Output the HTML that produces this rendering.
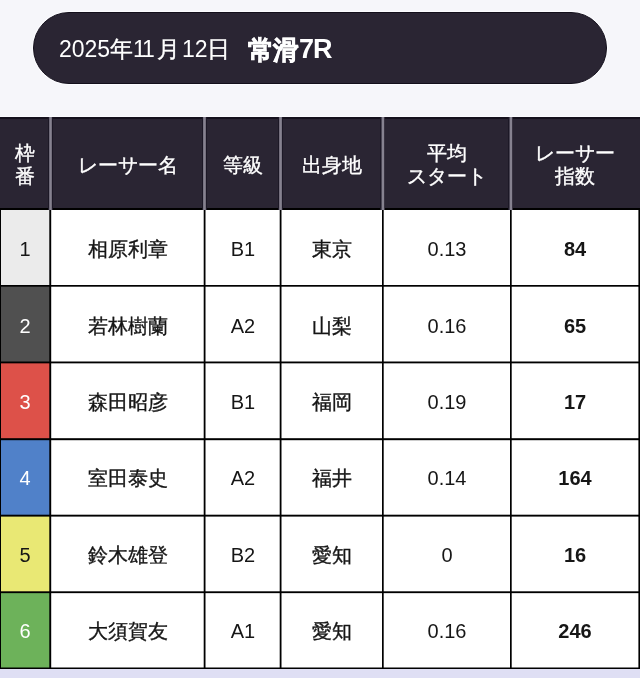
<!DOCTYPE html>
<html lang="ja">
<head>
<meta charset="utf-8">
<style>
html,body{margin:0;padding:0;}
body{width:640px;height:678px;overflow:hidden;background:#dfdff4;font-family:"Liberation Sans",sans-serif;position:relative;}
div{position:absolute;box-sizing:border-box;}
.c,.t{will-change:transform;}
.j{-webkit-text-stroke:0.35px currentColor;}
.t{color:#fff;font-size:23px;line-height:30px;white-space:nowrap;}
.tb{font-size:26px;font-weight:bold;}
.c{display:flex;align-items:center;justify-content:center;text-align:center;font-size:20px;color:#161616;padding-top:3px;white-space:nowrap;}
.h{color:#fff;line-height:23px;}
.w{color:#fff;}
.b{font-weight:bold;}
.v{width:1px;}
.z{height:1px;}
</style>
</head>
<body>
<div style="left:0;top:0;width:640px;height:117px;background:#f6f6fa"></div>
<div style="left:0;top:116px;width:640px;height:1px;background:#fbfbfe"></div>
<div style="left:33px;top:12px;width:574px;height:72px;border-radius:36px;background:#2a2533;border:1px solid #130f1b;box-shadow:0 0 0 1px #fcfcff"></div>
<div class="t" style="left:59px;top:34px;">2025</div>
<div class="t j" style="left:110px;top:34px;">年</div>
<div class="t" style="left:133px;top:34px;letter-spacing:-2px">11</div>
<div class="t j" style="left:157px;top:34px;">月</div>
<div class="t" style="left:182px;top:34px;">12</div>
<div class="t j" style="left:207px;top:34px;">日</div>
<div class="t tb" style="left:248px;top:35px;-webkit-text-stroke:0.6px #fff">常</div>
<div class="t tb" style="left:273px;top:35px;-webkit-text-stroke:0.6px #fff">滑</div>
<div class="t tb" style="left:299px;top:34px;font-size:27px">7</div>
<div class="t tb" style="left:313px;top:34px;font-size:27px">R</div>
<div style="left:0;top:117px;width:640px;height:2px;background:#15111d"></div>
<div style="left:0;top:119px;width:640px;height:89px;background:#2a2533"></div>
<div style="left:0;top:208px;width:640px;height:2px;background:#000"></div>
<div class="v" style="left:48px;top:117px;height:93px;background:#1c1826"></div>
<div class="v" style="left:49px;top:117px;height:93px;background:#6f6b79"></div>
<div class="v" style="left:50px;top:117px;height:93px;background:#868290"></div>
<div class="v" style="left:51px;top:117px;height:93px;background:#746f7d"></div>
<div class="v" style="left:52px;top:117px;height:93px;background:#1c1826"></div>
<div class="v" style="left:202px;top:117px;height:93px;background:#1c1826"></div>
<div class="v" style="left:203px;top:117px;height:93px;background:#787482"></div>
<div class="v" style="left:204px;top:117px;height:93px;background:#868290"></div>
<div class="v" style="left:205px;top:117px;height:93px;background:#746f7d"></div>
<div class="v" style="left:206px;top:117px;height:93px;background:#1c1826"></div>
<div class="v" style="left:278px;top:117px;height:93px;background:#1c1826"></div>
<div class="v" style="left:279px;top:117px;height:93px;background:#746f7d"></div>
<div class="v" style="left:280px;top:117px;height:93px;background:#868290"></div>
<div class="v" style="left:281px;top:117px;height:93px;background:#787482"></div>
<div class="v" style="left:282px;top:117px;height:93px;background:#1c1826"></div>
<div class="v" style="left:380px;top:117px;height:93px;background:#1c1826"></div>
<div class="v" style="left:381px;top:117px;height:93px;background:#4a4654"></div>
<div class="v" style="left:382px;top:117px;height:93px;background:#868290"></div>
<div class="v" style="left:383px;top:117px;height:93px;background:#868290"></div>
<div class="v" style="left:384px;top:117px;height:93px;background:#383341"></div>
<div class="v" style="left:508px;top:117px;height:93px;background:#1c1826"></div>
<div class="v" style="left:509px;top:117px;height:93px;background:#4a4654"></div>
<div class="v" style="left:510px;top:117px;height:93px;background:#868290"></div>
<div class="v" style="left:511px;top:117px;height:93px;background:#868290"></div>
<div class="v" style="left:512px;top:117px;height:93px;background:#383341"></div>
<div style="left:0;top:210px;width:640px;height:459px;background:#fff"></div>
<div style="left:0;top:210px;width:50px;height:75px;background:#ebebeb"></div>
<div style="left:0;top:285px;width:50px;height:77px;background:#505050"></div>
<div style="left:0;top:362px;width:50px;height:77px;background:#dd5149"></div>
<div style="left:0;top:439px;width:50px;height:76px;background:#5081c9"></div>
<div style="left:0;top:515px;width:50px;height:77px;background:#e9e874"></div>
<div style="left:0;top:592px;width:50px;height:76px;background:#6db25a"></div>
<div class="z" style="left:0;top:285px;width:640px;background:rgba(0,0,0,1.00)"></div>
<div class="z" style="left:0;top:286px;width:640px;background:rgba(0,0,0,0.70)"></div>
<div class="z" style="left:0;top:361px;width:640px;background:rgba(0,0,0,0.50)"></div>
<div class="z" style="left:0;top:362px;width:640px;background:rgba(0,0,0,1.00)"></div>
<div class="z" style="left:0;top:363px;width:640px;background:rgba(0,0,0,0.35)"></div>
<div class="z" style="left:0;top:438px;width:640px;background:rgba(0,0,0,0.80)"></div>
<div class="z" style="left:0;top:439px;width:640px;background:rgba(0,0,0,1.00)"></div>
<div class="z" style="left:0;top:440px;width:640px;background:rgba(0,0,0,0.20)"></div>
<div class="z" style="left:0;top:514px;width:640px;background:rgba(0,0,0,0.30)"></div>
<div class="z" style="left:0;top:515px;width:640px;background:rgba(0,0,0,1.00)"></div>
<div class="z" style="left:0;top:516px;width:640px;background:rgba(0,0,0,0.60)"></div>
<div class="z" style="left:0;top:591px;width:640px;background:rgba(0,0,0,0.70)"></div>
<div class="z" style="left:0;top:592px;width:640px;background:rgba(0,0,0,1.00)"></div>
<div class="z" style="left:0;top:593px;width:640px;background:rgba(0,0,0,0.15)"></div>
<div class="z" style="left:0;top:667px;width:640px;background:rgba(0,0,0,0.50)"></div>
<div class="z" style="left:0;top:668px;width:640px;background:rgba(0,0,0,1.00)"></div>
<div class="v" style="left:0px;top:210px;height:459px;background:rgba(0,0,0,1.00)"></div>
<div class="v" style="left:49px;top:210px;height:459px;background:rgba(0,0,0,0.70)"></div>
<div class="v" style="left:50px;top:210px;height:459px;background:rgba(0,0,0,1.00)"></div>
<div class="v" style="left:51px;top:210px;height:459px;background:rgba(0,0,0,0.20)"></div>
<div class="v" style="left:203px;top:210px;height:459px;background:rgba(0,0,0,0.30)"></div>
<div class="v" style="left:204px;top:210px;height:459px;background:rgba(0,0,0,1.00)"></div>
<div class="v" style="left:205px;top:210px;height:459px;background:rgba(0,0,0,0.50)"></div>
<div class="v" style="left:279px;top:210px;height:459px;background:rgba(0,0,0,0.30)"></div>
<div class="v" style="left:280px;top:210px;height:459px;background:rgba(0,0,0,1.00)"></div>
<div class="v" style="left:281px;top:210px;height:459px;background:rgba(0,0,0,0.50)"></div>
<div class="v" style="left:382px;top:210px;height:459px;background:rgba(0,0,0,1.00)"></div>
<div class="v" style="left:383px;top:210px;height:459px;background:rgba(0,0,0,0.70)"></div>
<div class="v" style="left:510px;top:210px;height:459px;background:rgba(0,0,0,1.00)"></div>
<div class="v" style="left:511px;top:210px;height:459px;background:rgba(0,0,0,0.70)"></div>
<div class="v" style="left:638px;top:210px;height:459px;background:rgba(0,0,0,0.60)"></div>
<div class="v" style="left:639px;top:210px;height:459px;background:rgba(0,0,0,1.00)"></div>
<div class="c h j" style="left:1px;top:119px;width:48px;height:89px">枠<br>番</div>
<div class="c h j" style="left:52px;top:119px;width:151px;height:89px">レーサー名</div>
<div class="c h j" style="left:206px;top:119px;width:73px;height:89px">等級</div>
<div class="c h j" style="left:282px;top:119px;width:99px;height:89px">出身地</div>
<div class="c h j" style="left:384px;top:119px;width:125px;height:89px">平均<br>スタート</div>
<div class="c h j" style="left:512px;top:119px;width:126px;height:89px">レーサー<br>指数</div>
<div class="c" style="left:1px;top:210px;width:48px;height:75px">1</div>
<div class="c j" style="left:51px;top:210px;width:153px;height:75px">相原利章</div>
<div class="c" style="left:206px;top:210px;width:74px;height:75px">B1</div>
<div class="c j" style="left:282px;top:210px;width:100px;height:75px">東京</div>
<div class="c" style="left:384px;top:210px;width:126px;height:75px">0.13</div>
<div class="c b" style="left:512px;top:210px;width:126px;height:75px">84</div>
<div class="c w" style="left:1px;top:287px;width:48px;height:75px">2</div>
<div class="c j" style="left:51px;top:287px;width:153px;height:75px">若林樹蘭</div>
<div class="c" style="left:206px;top:287px;width:74px;height:75px">A2</div>
<div class="c j" style="left:282px;top:287px;width:100px;height:75px">山梨</div>
<div class="c" style="left:384px;top:287px;width:126px;height:75px">0.16</div>
<div class="c b" style="left:512px;top:287px;width:126px;height:75px">65</div>
<div class="c w" style="left:1px;top:364px;width:48px;height:74px">3</div>
<div class="c j" style="left:51px;top:364px;width:153px;height:74px">森田昭彦</div>
<div class="c" style="left:206px;top:364px;width:74px;height:74px">B1</div>
<div class="c j" style="left:282px;top:364px;width:100px;height:74px">福岡</div>
<div class="c" style="left:384px;top:364px;width:126px;height:74px">0.19</div>
<div class="c b" style="left:512px;top:364px;width:126px;height:74px">17</div>
<div class="c w" style="left:1px;top:439px;width:48px;height:75px">4</div>
<div class="c j" style="left:51px;top:439px;width:153px;height:75px">室田泰史</div>
<div class="c" style="left:206px;top:439px;width:74px;height:75px">A2</div>
<div class="c j" style="left:282px;top:439px;width:100px;height:75px">福井</div>
<div class="c" style="left:384px;top:439px;width:126px;height:75px">0.14</div>
<div class="c b" style="left:512px;top:439px;width:126px;height:75px">164</div>
<div class="c" style="left:1px;top:517px;width:48px;height:74px">5</div>
<div class="c j" style="left:51px;top:517px;width:153px;height:74px">鈴木雄登</div>
<div class="c" style="left:206px;top:517px;width:74px;height:74px">B2</div>
<div class="c j" style="left:282px;top:517px;width:100px;height:74px">愛知</div>
<div class="c" style="left:384px;top:517px;width:126px;height:74px">0</div>
<div class="c b" style="left:512px;top:517px;width:126px;height:74px">16</div>
<div class="c w" style="left:1px;top:593px;width:48px;height:74px">6</div>
<div class="c j" style="left:51px;top:593px;width:153px;height:74px">大須賀友</div>
<div class="c" style="left:206px;top:593px;width:74px;height:74px">A1</div>
<div class="c j" style="left:282px;top:593px;width:100px;height:74px">愛知</div>
<div class="c" style="left:384px;top:593px;width:126px;height:74px">0.16</div>
<div class="c b" style="left:512px;top:593px;width:126px;height:74px">246</div>
</body>
</html>
